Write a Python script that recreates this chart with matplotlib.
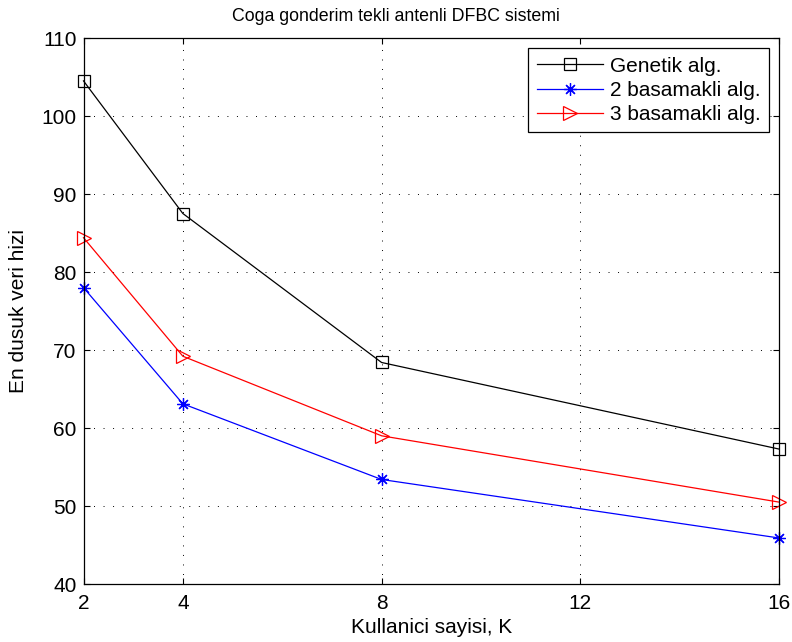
import matplotlib
matplotlib.use("Agg")
import matplotlib.pyplot as plt

plt.rcParams['font.family'] = ['Liberation Sans', 'DejaVu Sans']

users = [2, 4, 8, 16]
genetik = [104.5, 87.5, 68.4, 57.3]
iki_basamak = [78.0, 63.1, 53.4, 45.9]
uc_basamak = [84.4, 69.2, 59.0, 50.5]
x_ticks = [2, 4, 8, 12, 16]
y_ticks = [40, 50, 60, 70, 80, 90, 100, 110]

fig = plt.figure(figsize=(7.92, 6.42), dpi=100)
W, H = 792, 642
ax = fig.add_axes([83.5 / W, (H - 584) / H, (779 - 83.5) / W, (584 - 38) / H])

ax.plot(users, genetik, color='black', lw=0.9, marker='s', ms=8,
        mfc='none', mec='black', mew=0.9, label='Genetik alg.', clip_on=False)
ax.plot(users, iki_basamak, color='blue', lw=0.9, marker=(8, 2, 0), ms=9,
        mec='blue', mew=0.9, label='2 basamakli alg.', clip_on=False)
ax.plot(users, uc_basamak, color='red', lw=0.9, marker='>', ms=10,
        mfc='none', mec='red', mew=0.9, label='3 basamakli alg.', clip_on=False)

ax.set_xlim(2, 16)
ax.set_ylim(40, 110)
ax.set_xticks(x_ticks)
ax.set_yticks(y_ticks)
ax.tick_params(direction='in', length=4, labelsize=15, width=0.8)
ax.tick_params(axis='x', pad=7)
ax.tick_params(axis='y', pad=5)
ax.tick_params(top=True, right=True)
ax.grid(True, color='black', linestyle=(0, (1, 8.8)), linewidth=0.7)
for s in ax.spines.values():
    s.set_linewidth(0.9)

ax.set_xlabel('Kullanici sayisi, K', fontsize=15, labelpad=4)
ax.set_ylabel('En dusuk veri hizi', fontsize=15, labelpad=10)
ax.set_title('Coga gonderim tekli antenli DFBC sistemi', fontsize=12.8, pad=12,
             x=0.449)

leg = ax.legend(loc='upper right', fontsize=15, fancybox=False, framealpha=1,
                edgecolor='black', borderaxespad=0.5, handlelength=3.2,
                handletextpad=0.3, labelspacing=0.25, borderpad=0.4)
leg.get_frame().set_linewidth(0.9)

fig.savefig('out.png', dpi=100)
